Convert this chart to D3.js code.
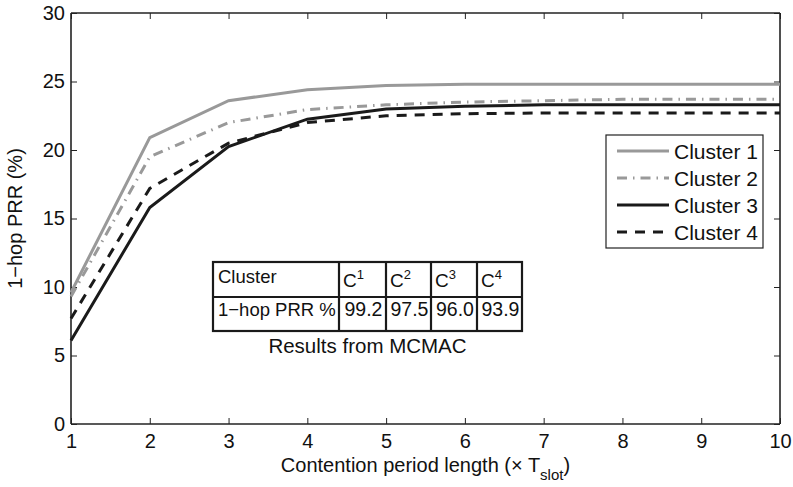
<!DOCTYPE html>
<html>
<head>
<meta charset="utf-8">
<script src="https://cdn.jsdelivr.net/npm/d3@7"></script>
<style>
  html, body { margin: 0; padding: 0; background: #fff; }
  svg { display: block; font-family: "Liberation Sans", Arial, Helvetica, sans-serif; }
</style>
</head>
<body>
<svg id="chart" width="793" height="487"></svg>
<script>
// Contention period length (× T_slot)
const periods = [1, 2, 3, 4, 5, 6, 7, 8, 9, 10];

// 1-hop PRR (%) per cluster
const cluster1 = [9.6, 20.9, 23.6, 24.4, 24.7, 24.8, 24.8, 24.8, 24.8, 24.8];
const cluster2 = [9.3, 19.5, 22.0, 22.95, 23.3, 23.5, 23.6, 23.7, 23.7, 23.7];
const cluster3 = [6.1, 15.8, 20.25, 22.25, 23.0, 23.2, 23.3, 23.3, 23.3, 23.3];
const cluster4 = [7.7, 17.2, 20.5, 22.0, 22.5, 22.65, 22.7, 22.7, 22.7, 22.7];

const seriesNames = ["Cluster 1", "Cluster 2", "Cluster 3", "Cluster 4"];
const xTicks = [1, 2, 3, 4, 5, 6, 7, 8, 9, 10];
const yTicks = [0, 5, 10, 15, 20, 25, 30];

// MCMAC reference results
const tableHeader = ["Cluster", "1", "2", "3", "4"];
const tableRowLabel = "1\u2212hop PRR %";
const tableValues = ["99.2", "97.5", "96.0", "93.9"];

const styles = [
  { color: "#999999", width: 3, dash: null },
  { color: "#999999", width: 3, dash: "10,6,1.5,6" },
  { color: "#1a1a1a", width: 3, dash: null },
  { color: "#1a1a1a", width: 3, dash: "10,8" }
];

const svg = d3.select("#chart");
const margin = { left: 71, right: 13, top: 13, bottom: 63 };
const W = 793, H = 487;
const x = d3.scaleLinear().domain([1, 10]).range([margin.left, W - margin.right]);
const y = d3.scaleLinear().domain([0, 30]).range([H - margin.bottom, margin.top]);

const axisColor = "#222";
const fontSize = 20;
const ink = "#111";

// Axes (boxed frame with inward ticks on all sides)
const gx = svg.append("g").attr("transform", `translate(0,${y(0)})`)
  .call(d3.axisBottom(x).tickValues(xTicks).tickSize(-6).tickPadding(10).tickFormat(d3.format("d")));
const gxTop = svg.append("g").attr("transform", `translate(0,${y(30)})`)
  .call(d3.axisTop(x).tickValues(xTicks).tickSize(-6).tickFormat(""));
const gy = svg.append("g").attr("transform", `translate(${x(1)},0)`)
  .call(d3.axisLeft(y).tickValues(yTicks).tickSize(-6).tickPadding(6).tickFormat(d3.format("d")));
const gyRight = svg.append("g").attr("transform", `translate(${x(10)},0)`)
  .call(d3.axisRight(y).tickValues(yTicks).tickSize(-6).tickFormat(""));

[gx, gxTop, gy, gyRight].forEach(g => {
  g.select(".domain").attr("stroke", axisColor).attr("stroke-width", 1.6);
  g.selectAll(".tick line").attr("stroke", axisColor).attr("stroke-width", 1);
  g.selectAll(".tick text").attr("fill", ink).style("font-size", fontSize + "px")
    .style("font-family", "'Liberation Sans', Arial, sans-serif");
});
// plain domain paths without end caps
[gx, gxTop].forEach(g => g.select(".domain").attr("d", `M${x(1)},0H${x(10)}`));
[gy, gyRight].forEach(g => g.select(".domain").attr("d", `M0,${y(30)}V${y(0)}`));

// Lines
const allSeries = [cluster1, cluster2, cluster3, cluster4];
const line = d3.line().x((d, i) => x(periods[i])).y(d => y(d));
allSeries.forEach((vals, k) => {
  svg.append("path")
    .datum(vals)
    .attr("d", line)
    .attr("fill", "none")
    .attr("stroke", styles[k].color)
    .attr("stroke-width", styles[k].width)
    .attr("stroke-dasharray", styles[k].dash)
    .attr("stroke-linejoin", "miter");
});

// Axis titles
svg.append("text")
  .attr("x", (x(1) + x(10)) / 2).attr("y", 472)
  .attr("text-anchor", "middle")
  .style("font-size", fontSize + "px").attr("fill", ink)
  .call(t => {
    t.append("tspan").text("Contention period length (\u00d7 T");
    t.append("tspan").attr("dy", 8).style("font-size", "15px").text("slot");
    t.append("tspan").attr("dy", -8).text(")");
  });

svg.append("text")
  .attr("transform", `translate(22,${(y(0) + y(30)) / 2}) rotate(-90)`)
  .attr("text-anchor", "middle")
  .style("font-size", fontSize + "px").attr("fill", ink)
  .text("1\u2212hop PRR (%)");

// Legend
const lg = svg.append("g");
const lgX = 606, lgY = 135, lgW = 157, lgH = 113;
lg.append("rect").attr("x", lgX).attr("y", lgY).attr("width", lgW).attr("height", lgH)
  .attr("fill", "#fff").attr("stroke", "#222").attr("stroke-width", 1.2);
seriesNames.forEach((name, k) => {
  const cy = lgY + 16 + k * 27;
  lg.append("line").attr("x1", lgX + 11).attr("x2", lgX + 63).attr("y1", cy).attr("y2", cy)
    .attr("stroke", styles[k].color).attr("stroke-width", styles[k].width)
    .attr("stroke-dasharray", styles[k].dash);
  lg.append("text").attr("x", lgX + 68).attr("y", cy + 7.5)
    .style("font-size", "21px").attr("fill", ink).text(name);
});

// Inset table with MCMAC results
const tb = svg.append("g");
const colX = [213, 339, 386, 431, 477, 522];
const rowY = [262, 297, 331];
tb.append("rect").attr("x", colX[0]).attr("y", rowY[0])
  .attr("width", colX[5] - colX[0]).attr("height", rowY[2] - rowY[0])
  .attr("fill", "#fff").attr("stroke", "#1a1a1a").attr("stroke-width", 2.2);
tb.append("line").attr("x1", colX[0]).attr("x2", colX[5]).attr("y1", rowY[1]).attr("y2", rowY[1])
  .attr("stroke", "#1a1a1a").attr("stroke-width", 2.2);
colX.slice(1, 5).forEach(cx => {
  tb.append("line").attr("x1", cx).attr("x2", cx).attr("y1", rowY[0]).attr("y2", rowY[2])
    .attr("stroke", "#1a1a1a").attr("stroke-width", 2.2);
});
tb.append("text").attr("x", colX[0] + 5).attr("y", rowY[0] + 21)
  .style("font-size", "18.5px").attr("fill", ink).text(tableHeader[0]);
tableHeader.slice(1).forEach((sup, i) => {
  const t = tb.append("text").attr("x", colX[i + 1] + 4).attr("y", rowY[0] + 25)
    .style("font-size", "19px").attr("fill", ink);
  t.append("tspan").text("C");
  t.append("tspan").attr("dy", -8).style("font-size", "13px").text(sup);
});
tb.append("text").attr("x", colX[0] + 5).attr("y", rowY[1] + 19)
  .style("font-size", "18.5px").attr("fill", ink).text(tableRowLabel);
tableValues.forEach((v, i) => {
  tb.append("text").attr("x", (colX[i + 1] + colX[i + 2]) / 2 + 1).attr("y", rowY[1] + 19)
    .attr("text-anchor", "middle")
    .style("font-size", "19.5px").attr("fill", ink).text(v);
});
tb.append("text").attr("x", (colX[0] + colX[5]) / 2).attr("y", 353)
  .attr("text-anchor", "middle")
  .style("font-size", "20.5px").attr("fill", ink).text("Results from MCMAC");
</script>
</body>
</html>
